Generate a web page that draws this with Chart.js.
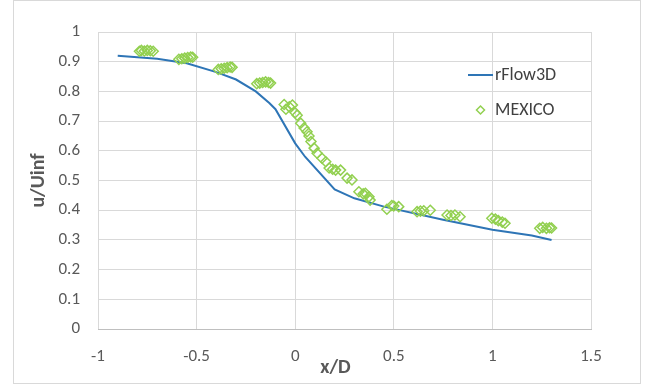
<!DOCTYPE html>
<html>
<head>
<meta charset="utf-8">
<script src="https://cdn.jsdelivr.net/npm/chart.js@4"></script>
<style>
  html, body { margin: 0; padding: 0; background: #fff; }
  #wrap { position: relative; width: 650px; height: 385px; }
</style>
</head>
<body>
<div id="wrap"><canvas id="myChart" width="650" height="385"></canvas></div>
<script>
// rFlow3D line
var flowX = [-0.9, -0.7, -0.55, -0.4, -0.3, -0.2, -0.13, -0.1, 0, 0.05, 0.2, 0.3, 0.45, 0.75, 1.0, 1.2, 1.3];
var flowY = [0.92, 0.91, 0.895, 0.865, 0.84, 0.80, 0.76, 0.74, 0.625, 0.58, 0.47, 0.44, 0.412, 0.368, 0.334, 0.315, 0.30];

// MEXICO measurements
var mexX = [-0.79, -0.78, -0.765, -0.75, -0.735, -0.72,
            -0.59, -0.575, -0.56, -0.545, -0.53, -0.52,
            -0.39, -0.375, -0.36, -0.345, -0.33, -0.32,
            -0.195, -0.18, -0.165, -0.15, -0.135, -0.125,
            -0.056, -0.047, -0.03, -0.014, 0.0, 0.01, 0.028, 0.045, 0.06, 0.07, 0.08, 0.096, 0.111,
            0.136, 0.155, 0.172, 0.19, 0.205, 0.23, 0.263, 0.288, 0.323, 0.345, 0.356, 0.374, 0.38,
            0.465, 0.49, 0.5, 0.525, 0.618, 0.635, 0.652, 0.685, 0.77, 0.79, 0.81, 0.836,
            0.997, 1.015, 1.03, 1.05, 1.064, 1.24, 1.255, 1.274, 1.29, 1.3];
var mexY = [0.935, 0.938, 0.936, 0.938, 0.937, 0.935,
            0.908, 0.91, 0.912, 0.914, 0.916, 0.915,
            0.874, 0.876, 0.878, 0.88, 0.882, 0.881,
            0.826, 0.828, 0.83, 0.832, 0.83, 0.828,
            0.756, 0.74, 0.748, 0.754, 0.728, 0.72, 0.693, 0.677, 0.664, 0.65, 0.631, 0.609, 0.592,
            0.575, 0.563, 0.542, 0.538, 0.535, 0.535, 0.508, 0.502, 0.462, 0.455, 0.457, 0.445, 0.434,
            0.403, 0.416, 0.414, 0.412, 0.395, 0.397, 0.398, 0.40, 0.384, 0.382, 0.384, 0.378,
            0.373, 0.37, 0.365, 0.36, 0.356, 0.339, 0.342, 0.339, 0.341, 0.34];

var seriesNames = ['rFlow3D', 'MEXICO'];

var fontFam = 'Carlito, Lato, "Liberation Sans", sans-serif';

function toPoints(xs, ys) {
  return xs.map(function (x, i) { return { x: x, y: ys[i] }; });
}

// etiquetas sin ceros de mas
function fmt(v) {
  return String(Math.round(v * 10) / 10);
}

// borde exterior y leyenda dentro del area
var frame = {
  id: 'frame',
  beforeDraw: function (chart) {
    var ctx = chart.ctx;
    ctx.save();
    ctx.strokeStyle = '#d9d9d9';
    ctx.lineWidth = 1;
    ctx.strokeRect(13.5, 0.5, 627, 383);
    ctx.restore();
  },
  afterDraw: function (chart) {
    var ctx = chart.ctx;
    var ds = chart.data.datasets;
    ctx.save();
    ctx.font = '18px ' + fontFam;
    ctx.fillStyle = '#404040';
    ctx.textBaseline = 'middle';
    // line entry
    ctx.strokeStyle = ds[0].borderColor;
    ctx.lineWidth = 2;
    ctx.beginPath();
    ctx.moveTo(468, 75);
    ctx.lineTo(493, 75);
    ctx.stroke();
    ctx.fillText(ds[0].label, 495, 75);
    // marker entry
    ctx.strokeStyle = ds[1].borderColor;
    ctx.lineWidth = 1.5;
    ctx.beginPath();
    ctx.moveTo(480.5, 106);
    ctx.lineTo(484.5, 110);
    ctx.lineTo(480.5, 114);
    ctx.lineTo(476.5, 110);
    ctx.closePath();
    ctx.stroke();
    ctx.fillText(ds[1].label, 495, 110);
    ctx.restore();
  }
};

var ctx = document.getElementById('myChart').getContext('2d');
var myChart = new Chart(ctx, {
  type: 'scatter',
  data: {
    datasets: [{
      label: seriesNames[0],
      data: toPoints(flowX, flowY),
      showLine: true,
      borderColor: '#2E75B6',
      borderWidth: 2,
      pointRadius: 0,
      fill: false,
      order: 2
    }, {
      label: seriesNames[1],
      data: toPoints(mexX, mexY),
      showLine: false,
      borderColor: '#92D050',
      backgroundColor: 'rgba(255,255,255,0)',
      pointStyle: 'rectRot',
      pointRadius: 5,
      borderWidth: 1.5,
      order: 1
    }]
  },
  options: {
    responsive: false,
    animation: false,
    layout: { padding: { left: 13, top: 32, right: 59, bottom: 0 } },
    plugins: {
      legend: { display: false },
      tooltip: { enabled: false }
    },
    scales: {
      x: {
        type: 'linear',
        min: -1,
        max: 1.5,
        ticks: { stepSize: 0.5, color: '#595959', padding: 18, font: { family: fontFam, size: 17 },
                 callback: function (v) { return fmt(v); } },
        grid: { color: '#d9d9d9', drawTicks: false },
        border: { color: '#bfbfbf' },
        title: { display: true, text: 'x/D    ', color: '#595959', padding: { top: 0, bottom: 5 },
                 font: { family: fontFam, size: 20, weight: 'bold' } },
        afterFit: function (scale) { scale.height = 56; }
      },
      y: {
        min: 0,
        max: 1,
        ticks: { stepSize: 0.1, color: '#595959', padding: 18, font: { family: fontFam, size: 17 },
                 callback: function (v) { return fmt(v); } },
        grid: { color: '#d9d9d9', drawTicks: false },
        border: { display: false },
        title: { display: true, text: 'u/Uinf', color: '#595959', padding: { top: 14, bottom: 0 },
                 font: { family: fontFam, size: 20, weight: 'bold' } },
        afterFit: function (scale) { scale.width = 85; }
      }
    }
  },
  plugins: [frame]
});
</script>
</body>
</html>
